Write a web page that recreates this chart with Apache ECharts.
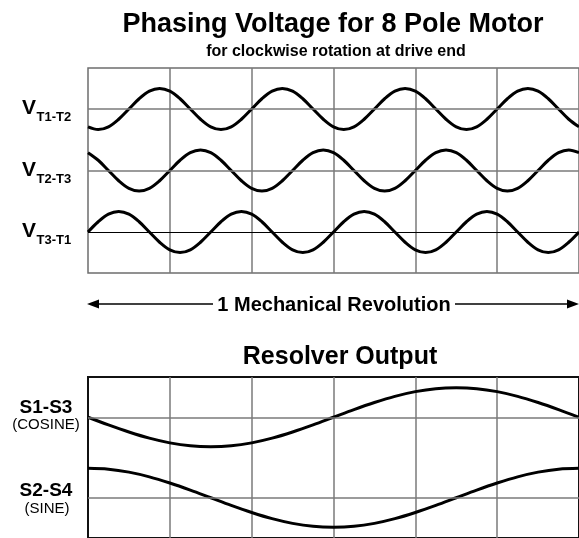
<!DOCTYPE html>
<html>
<head>
<meta charset="utf-8">
<style>
  html, body { margin: 0; padding: 0; background: #fff; }
  #chart { width: 579px; height: 538px; }
</style>
<script src="https://cdn.jsdelivr.net/npm/echarts@6/dist/echarts.min.js"></script>
</head>
<body>
<div id="chart"></div>
<script>
// Mechanical angle of the rotor (degrees) for the phasing-voltage traces
const revolutionDeg = [0, 7.5, 15, 22.5, 30, 37.5, 45, 52.5, 60, 67.5, 75, 82.5,
  90, 97.5, 105, 112.5, 120, 127.5, 135, 142.5, 150, 157.5, 165, 172.5,
  180, 187.5, 195, 202.5, 210, 217.5, 225, 232.5, 240, 247.5, 255, 262.5,
  270, 277.5, 285, 292.5, 300, 307.5, 315, 322.5, 330, 337.5, 345, 352.5, 360];

// Normalised line-to-line voltages (4 electrical cycles per revolution)
const vT1T2 = [-0.87, -1, -0.87, -0.5, 0, 0.5, 0.87, 1, 0.87, 0.5, 0, -0.5,
  -0.87, -1, -0.87, -0.5, 0, 0.5, 0.87, 1, 0.87, 0.5, 0, -0.5,
  -0.87, -1, -0.87, -0.5, 0, 0.5, 0.87, 1, 0.87, 0.5, 0, -0.5,
  -0.87, -1, -0.87, -0.5, 0, 0.5, 0.87, 1, 0.87, 0.5, 0, -0.5, -0.87];
const vT2T3 = [0.87, 0.5, 0, -0.5, -0.87, -1, -0.87, -0.5, 0, 0.5, 0.87, 1,
  0.87, 0.5, 0, -0.5, -0.87, -1, -0.87, -0.5, 0, 0.5, 0.87, 1,
  0.87, 0.5, 0, -0.5, -0.87, -1, -0.87, -0.5, 0, 0.5, 0.87, 1,
  0.87, 0.5, 0, -0.5, -0.87, -1, -0.87, -0.5, 0, 0.5, 0.87, 1, 0.87];
const vT3T1 = [0, 0.5, 0.87, 1, 0.87, 0.5, 0, -0.5, -0.87, -1, -0.87, -0.5,
  0, 0.5, 0.87, 1, 0.87, 0.5, 0, -0.5, -0.87, -1, -0.87, -0.5,
  0, 0.5, 0.87, 1, 0.87, 0.5, 0, -0.5, -0.87, -1, -0.87, -0.5,
  0, 0.5, 0.87, 1, 0.87, 0.5, 0, -0.5, -0.87, -1, -0.87, -0.5, 0];

// Mechanical angle for the resolver traces
const resolverDeg = [0, 15, 30, 45, 60, 75, 90, 105, 120, 135, 150, 165,
  180, 195, 210, 225, 240, 255, 270, 285, 300, 315, 330, 345, 360];
const s1s3 = [0, -0.26, -0.5, -0.71, -0.87, -0.97, -1, -0.97, -0.87, -0.71, -0.5, -0.26,
  0, 0.26, 0.5, 0.71, 0.87, 0.97, 1, 0.97, 0.87, 0.71, 0.5, 0.26, 0];
const s2s4 = [1, 0.97, 0.87, 0.71, 0.5, 0.26, 0, -0.26, -0.5, -0.71, -0.87, -0.97,
  -1, -0.97, -0.87, -0.71, -0.5, -0.26, 0, 0.26, 0.5, 0.71, 0.87, 0.97, 1];

const FONT = '"Liberation Sans", Arial, Helvetica, sans-serif';
const pairs = (xs, ys) => xs.map((x, i) => [x, ys[i]]);

function xAxisFor(gridIndex) {
  return {
    type: 'value', gridIndex, min: 0, max: 360, interval: 60,
    axisLine: { show: false }, axisTick: { show: false }, axisLabel: { show: false },
    splitLine: { show: true, showMinLine: false, showMaxLine: false,
      lineStyle: { color: '#7a7a7a', width: 1.5 } }
  };
}
function yAxisFor(gridIndex, min, max) {
  return { type: 'value', gridIndex, min, max, show: false };
}
function baseline(color, width) {
  return {
    silent: true, symbol: 'none', animation: false,
    label: { show: false },
    lineStyle: { color, width, type: 'solid' },
    data: [{ yAxis: 0 }]
  };
}
function trace(xIdx, yIdx, xs, ys, smooth, line) {
  return {
    type: 'line', xAxisIndex: xIdx, yAxisIndex: yIdx,
    data: pairs(xs, ys), smooth, symbol: 'none', z: 3,
    lineStyle: { color: '#000', width: 3 },
    markLine: line
  };
}
function text(x, y, str, font, align) {
  return {
    type: 'text', x, y, silent: true,
    style: { text: str, font, fill: '#000',
      textAlign: align || 'center', textVerticalAlign: 'middle',
      align: align || 'center', verticalAlign: 'middle' }
  };
}

const chart = echarts.init(document.getElementById('chart'));
chart.setOption({
  animation: false,
  backgroundColor: '#fff',
  grid: [
    { left: 88, top: 68, width: 492, height: 205, show: true,
      borderColor: '#6e6e6e', borderWidth: 1.5 },
    { left: 88, top: 377, width: 492, height: 164, show: true,
      borderColor: '#111', borderWidth: 2 }
  ],
  xAxis: [xAxisFor(0), xAxisFor(1)],
  yAxis: [
    yAxisFor(0, -8, 2),
    yAxisFor(0, -5, 5),
    yAxisFor(0, -2, 8),
    yAxisFor(1, -4.1, 1.3667),
    yAxisFor(1, -1.3667, 4.1)
  ],
  series: [
    trace(0, 0, revolutionDeg, vT1T2, 0.35, baseline('#7a7a7a', 1.5)),
    trace(0, 1, revolutionDeg, vT2T3, 0.35, baseline('#7a7a7a', 1.5)),
    trace(0, 2, revolutionDeg, vT3T1, 0.35, baseline('#000', 1)),
    trace(1, 3, resolverDeg, s1s3, 0.35, baseline('#7a7a7a', 1.5)),
    trace(1, 4, resolverDeg, s2s4, 0.35, baseline('#7a7a7a', 1.5))
  ],
  graphic: [
    text(333, 25, 'Phasing Voltage for 8 Pole Motor', 'bold 27px ' + FONT),
    text(336, 52, 'for clockwise rotation at drive end', 'bold 16px ' + FONT),

    text(22, 108.5, 'V', 'bold 21px ' + FONT, 'left'),
    text(36.5, 117.5, 'T1-T2', 'bold 13px ' + FONT, 'left'),
    text(22, 170, 'V', 'bold 21px ' + FONT, 'left'),
    text(36.5, 179, 'T2-T3', 'bold 13px ' + FONT, 'left'),
    text(22, 231.5, 'V', 'bold 21px ' + FONT, 'left'),
    text(36.5, 240.5, 'T3-T1', 'bold 13px ' + FONT, 'left'),

    // span of one mechanical revolution
    { type: 'line', silent: true, shape: { x1: 95, y1: 304, x2: 213, y2: 304 },
      style: { stroke: '#000', lineWidth: 1.5 } },
    { type: 'line', silent: true, shape: { x1: 455, y1: 304, x2: 571, y2: 304 },
      style: { stroke: '#000', lineWidth: 1.5 } },
    { type: 'polygon', silent: true, shape: { points: [[87, 304], [99, 299.5], [99, 308.5]] },
      style: { fill: '#000' } },
    { type: 'polygon', silent: true, shape: { points: [[579, 304], [567, 299.5], [567, 308.5]] },
      style: { fill: '#000' } },
    text(334, 305, '1 Mechanical Revolution', 'bold 20px ' + FONT),

    text(340, 357, 'Resolver Output', 'bold 25px ' + FONT),

    text(46, 407.5, 'S1-S3', 'bold 19px ' + FONT),
    text(46, 425, '(COSINE)', '15px ' + FONT),
    text(46, 490.5, 'S2-S4', 'bold 19px ' + FONT),
    text(47, 509, '(SINE)', '15px ' + FONT)
  ]
});
</script>
</body>
</html>
